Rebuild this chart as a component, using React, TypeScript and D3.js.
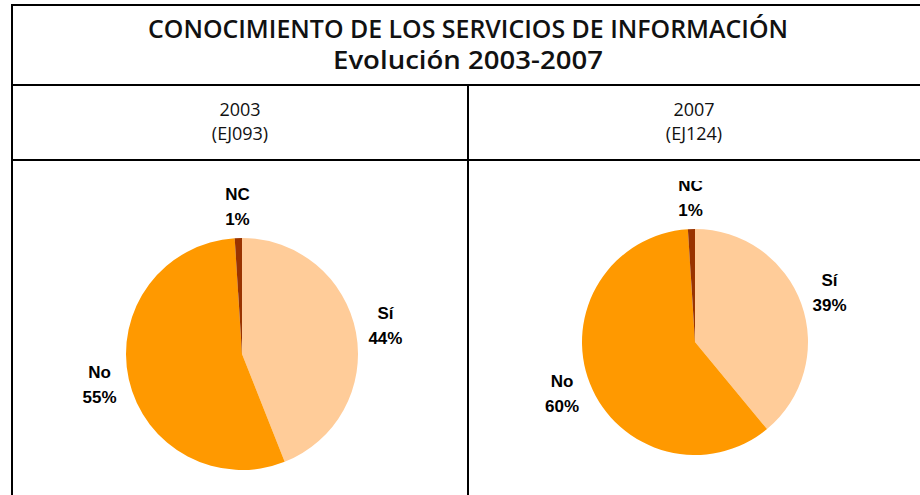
import * as d3 from "d3";

const CATEGORIES = ["Sí", "No", "NC"];
const COLORS = ["#FFCC99", "#FF9900", "#993300"];
const YEARS = ["2003", "2007"];
const CODES = ["(EJ093)", "(EJ124)"];
const VALUES_2003 = [44, 55, 1];
const VALUES_2007 = [39, 60, 1];
const SERIES = [VALUES_2003, VALUES_2007];

const W = 920;
const H = 495;
const LEFT = 12;
const MID = 468;
const TOP = 5;
const TITLE_BOTTOM = 85;
const HEAD_BOTTOM = 160;

const PIES = [
  { cx: 242, cy: 354, r: 116, clipTop: 165 },
  { cx: 695, cy: 342, r: 113, clipTop: 181 },
];

const labelFont = "'Liberation Sans', Arial, sans-serif";
const titleFont = "'Open Sans', 'DejaVu Sans', sans-serif";

function Pie({ values, idx }: { values: number[]; idx: number }) {
  const { cx, cy, r, clipTop } = PIES[idx];
  const pie = d3
    .pie<number>()
    .sort(null)
    .value((d) => d);
  const arcs = pie(values);
  const arc = d3.arc<d3.PieArcDatum<number>>().innerRadius(0).outerRadius(r);
  const labelArc = d3
    .arc<d3.PieArcDatum<number>>()
    .innerRadius(r + 30)
    .outerRadius(r + 30);
  const left = idx === 0 ? LEFT : MID;
  const right = idx === 0 ? MID : W;
  return (
    <g>
      <defs>
        <clipPath id={`clip${idx}`}>
          <rect x={left + 1} y={clipTop} width={right - left - 2} height={H - clipTop} />
        </clipPath>
      </defs>
      <g clipPath={`url(#clip${idx})`}>
        <g transform={`translate(${cx},${cy})`}>
          {arcs.map((a, i) => (
            <path key={i} d={arc(a) ?? ""} fill={COLORS[i]} />
          ))}
          {arcs.map((a, i) => {
            const [lx, ly] = labelArc.centroid(a);
            return (
              <text
                key={"l" + i}
                x={lx}
                y={ly}
                textAnchor="middle"
                fontFamily={labelFont}
                fontWeight="bold"
                fontSize={17}
                fill="#000"
              >
                <tspan x={lx} dy={-8}>
                  {CATEGORIES[i]}
                </tspan>
                <tspan x={lx} dy={25}>
                  {Math.round(a.data) + "%"}
                </tspan>
              </text>
            );
          })}
        </g>
      </g>
    </g>
  );
}

export default function App() {
  const col0 = (LEFT + MID) / 2;
  const col1 = (MID + W) / 2;
  return (
    <svg
      width={W}
      height={H}
      style={{ position: "absolute", left: 0, top: 0, background: "#fff" }}
    >
      <rect x={0} y={0} width={W} height={H} fill="#fff" />
      {/* frame */}
      <g stroke="#000" strokeWidth={2}>
        <line x1={LEFT - 1} x2={W} y1={TOP} y2={TOP} />
        <line x1={LEFT - 1} x2={W} y1={TITLE_BOTTOM} y2={TITLE_BOTTOM} />
        <line x1={LEFT - 1} x2={W} y1={HEAD_BOTTOM} y2={HEAD_BOTTOM} />
        <line x1={LEFT} x2={LEFT} y1={TOP - 1} y2={H} />
        <line x1={MID} x2={MID} y1={TITLE_BOTTOM} y2={H} />
      </g>
      {/* title */}
      <text
        x={468}
        y={38}
        textAnchor="middle"
        fontFamily={titleFont}
        fontWeight={600}
        fontSize={25}
        textLength={640}
        lengthAdjust="spacingAndGlyphs"
        fill="#111"
      >
        CONOCIMIENTO DE LOS SERVICIOS DE INFORMACIÓN
      </text>
      <text
        x={468}
        y={69}
        textAnchor="middle"
        fontFamily={titleFont}
        fontWeight={600}
        fontSize={25}
        textLength={270}
        lengthAdjust="spacingAndGlyphs"
        fill="#111"
      >
        Evolución 2003-2007
      </text>
      {/* column headers */}
      {[col0, col1].map((cx, i) => (
        <g key={i} fontFamily={titleFont} fontSize={18} fill="#111" textAnchor="middle">
          <text x={cx} y={116}>
            {YEARS[i]}
          </text>
          <text x={cx} y={140}>
            {CODES[i]}
          </text>
        </g>
      ))}
      {SERIES.map((vals, i) => (
        <Pie key={i} values={vals} idx={i} />
      ))}
    </svg>
  );
}
